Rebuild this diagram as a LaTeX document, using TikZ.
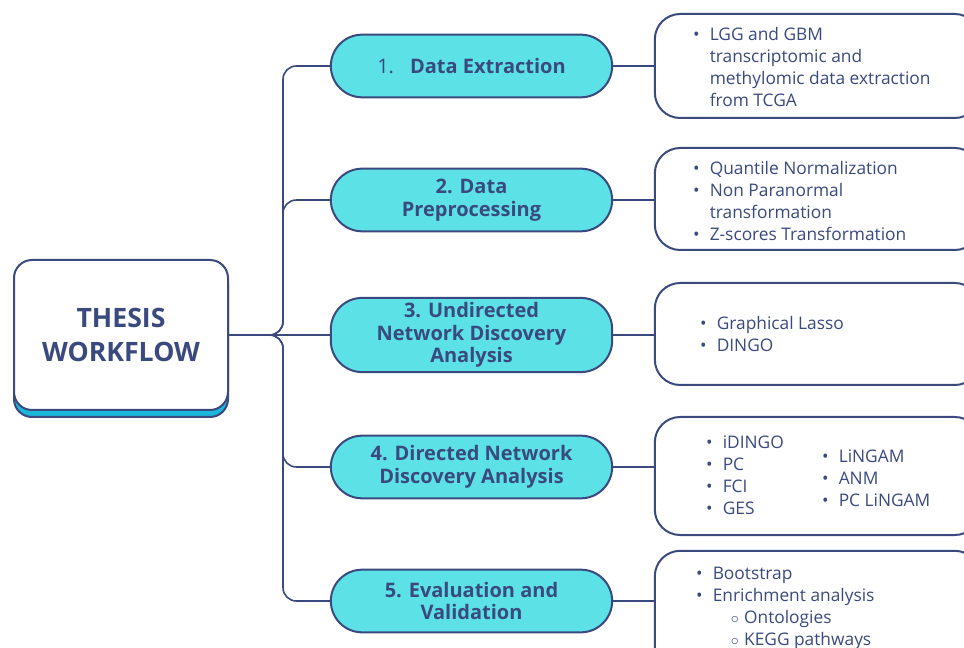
\documentclass[tikz,border=0pt]{standalone}
\usepackage{fontspec}
\setmainfont{Open Sans}
\usetikzlibrary{positioning}

\definecolor{navy}{HTML}{3A4A7E}
\definecolor{pillcyan}{HTML}{5CE1E6}
\definecolor{shadowcyan}{HTML}{1DB7DA}

\newcommand{\itm}{\makebox[12.5pt][l]{\textbullet}}
\newcommand{\cont}{\hspace*{12.5pt}}
\newcommand{\subitm}{\hspace*{26pt}\makebox[10pt][l]{$\circ$}}

\tikzset{
  rootbox/.style={draw=navy, line width=1.5pt, fill=white, rounded corners=13.5pt,
    minimum width=160.5pt, minimum height=112.5pt, align=center, text=navy,
    font=\fontsize{20}{25}\selectfont\bfseries},
  stagepill/.style={draw=navy, line width=1.5pt, fill=pillcyan, rounded corners=23.5pt,
    minimum width=211pt, minimum height=47pt, align=center, text=navy,
    font=\fontsize{15}{17}\selectfont\bfseries},
  detailbox/.style={draw=navy, line width=1.5pt, fill=white, rounded corners=19pt,
    minimum width=244pt},
  listtext/.style={anchor=west, align=left, text=navy, inner sep=0pt,
    font=\fontsize{13}{16.5}\selectfont},
  link/.style={draw=navy, line width=1.2pt, rounded corners=10pt}
}

\begin{document}
\begin{tikzpicture}[x=0.75pt, y=-0.75pt]
\clip (0,0) rectangle (964,648);

% --- root
\node[rootbox, fill=shadowcyan] (rootshadow) at (121,342) {};
\node[rootbox] (root) at (121,335) {THESIS\\WORKFLOW};

% --- stages
\node[stagepill] (step1) at (471.5,66) {{\mdseries 1.}\hspace{12pt}Data Extraction};
\node[stagepill] (step2) at (471.5,200) {2. Data\\Preprocessing};
\node[stagepill] (step3) at (471.5,335) {3. Undirected\\Network Discovery\\Analysis};
\node[stagepill] (step4) at (471.5,467) {4. Directed Network\\Discovery Analysis};
\node[stagepill] (step5) at (471.5,601) {5. Evaluation and\\Validation};

% --- detail boxes
\node[detailbox, minimum height=78pt] (box1) at (817.5,66) {};
\node[detailbox, minimum height=76.5pt] (box2) at (817.5,199) {};
\node[detailbox, minimum height=76.5pt] (box3) at (817.5,334) {};
\node[detailbox, minimum height=88.5pt] (box4) at (817.5,476) {};
\node[detailbox, minimum height=97pt] (box5) at (817.5,615.5) {};

% --- box contents
\node[listtext] (list1) at ([shift={(39,1)}]box1.west)
  {\itm LGG and GBM\\\cont transcriptomic and\\\cont methylomic data extraction\\\cont from TCGA};
\node[listtext] (list2) at ([shift={(39,2)}]box2.west)
  {\itm Quantile Normalization\\\itm Non Paranormal\\\cont transformation\\\itm Z-scores Transformation};
\node[listtext] (list3) at ([shift={(46,0)}]box3.west)
  {\itm Graphical Lasso\\\itm DINGO};
\node[listtext] (list4a) at ([shift={(52,-1)}]box4.west)
  {\itm iDINGO\\\itm PC\\\itm FCI\\\itm GES};
\node[listtext] (list4b) at ([shift={(168,2)}]box4.west)
  {\itm LiNGAM\\\itm ANM\\\itm PC LiNGAM};
\node[listtext] (list5) at ([shift={(42,-7.5)}]box5.west)
  {\itm Bootstrap\\\itm Enrichment analysis\\\subitm Ontologies\\\subitm KEGG pathways};

% --- connectors
\foreach \s in {1,2,4,5}
  \draw[link] (root.east) -- (283,335) |- (step\s.west);
\draw[link] (root.east) -- (step3.west);
\foreach \s in {1,...,5}
  \draw[link] (step\s.east) -- (step\s.east -| box\s.west);

\end{tikzpicture}
\end{document}
